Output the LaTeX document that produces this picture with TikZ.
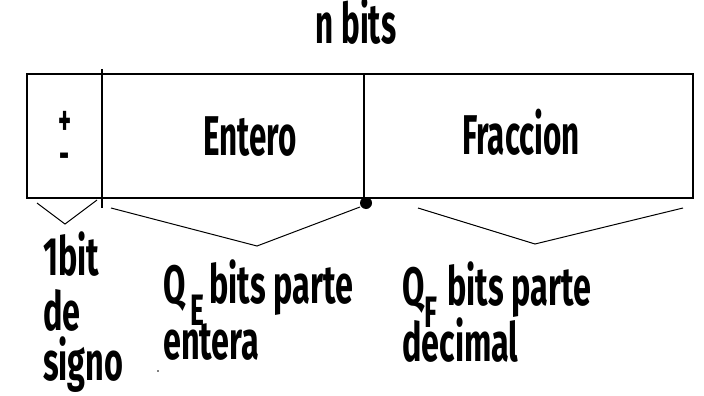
\documentclass[tikz,border=0pt]{standalone}
\usepackage{fontspec}
\setmainfont{Fira Sans}[FakeStretch=0.56]
\newfontfamily\lblfont{Fira Sans}[FakeStretch=0.6]
\usepackage{tikz}
\usetikzlibrary{positioning,calc}

\tikzset{
  hdr/.style={inner sep=0pt, font=\fontsize{56}{60}\selectfont\bfseries},
  lbl/.style={inner sep=0pt, font=\lblfont\fontsize{54}{60}\selectfont\bfseries},
  subs/.style={inner sep=0pt, font=\lblfont\fontsize{44}{48}\selectfont\bfseries},
  sgn/.style={inner sep=0pt, font=\fontsize{44}{48}\selectfont\bfseries},
  brace/.style={line width=1pt},
}

\begin{document}
\begin{tikzpicture}[x=1pt,y=-1pt]
\useasboundingbox (0,0) rectangle (704,396);
% word with the three fields
\draw[line width=1.4pt] (27,74) rectangle (693,198);
\draw[line width=1.4pt] (102,69) -- (102,208);
\draw[line width=1.4pt] (364,74) -- (364,198);
\fill (366,203) circle (6);
% header
\node[hdr, anchor=base] (nb) at (356,44) {n bits};
\node[sgn, anchor=center] (plus) at (65,123) {+};
\node[sgn, anchor=center] (minus) at (65,161) {-};
\node[hdr, anchor=base] (ent) at (250,155) {Entero};
\node[hdr, anchor=base] (frac) at (521,154) {Fraccion};
% braces under each field
\coordinate (s1) at (37,203);
\coordinate (s2) at (65,224);
\coordinate (s3) at (97,200);
\draw[brace] (s1) -- (s2) -- (s3);
\coordinate (e1) at (111,208);
\coordinate (e2) at (257,246);
\coordinate (e3) at (360,207);
\draw[brace] (e1) -- (e2) -- (e3);
\coordinate (f1) at (418,208);
\coordinate (f2) at (535,244);
\coordinate (f3) at (683,208);
\draw[brace] (f1) -- (f2) -- (f3);
% labels
\node[lbl, anchor=base west] (sg1) at (43,275) {1bit};
\node[lbl, anchor=base west] (sg2) at (43,330) {de};
\node[lbl, anchor=base west] (sg3) at (43,380) {signo};
\node[lbl, anchor=base west] (qe) at (163,303) {Q};
\node[subs, anchor=base west] (qesub) at (190,325) {E};
\node[lbl, anchor=base west] (qetxt) at (209,303) {bits parte};
\node[lbl, anchor=base west] (qe2) at (163,359) {entera};
\node[lbl, anchor=base west] (qf) at (402,305) {Q};
\node[subs, anchor=base west] (qfsub) at (424,327) {F};
\node[lbl, anchor=base west] (qftxt) at (447,305) {bits parte};
\node[lbl, anchor=base west] (qf2) at (402,361) {decimal};
\fill (158,371) circle (0.8);
\end{tikzpicture}
\end{document}
